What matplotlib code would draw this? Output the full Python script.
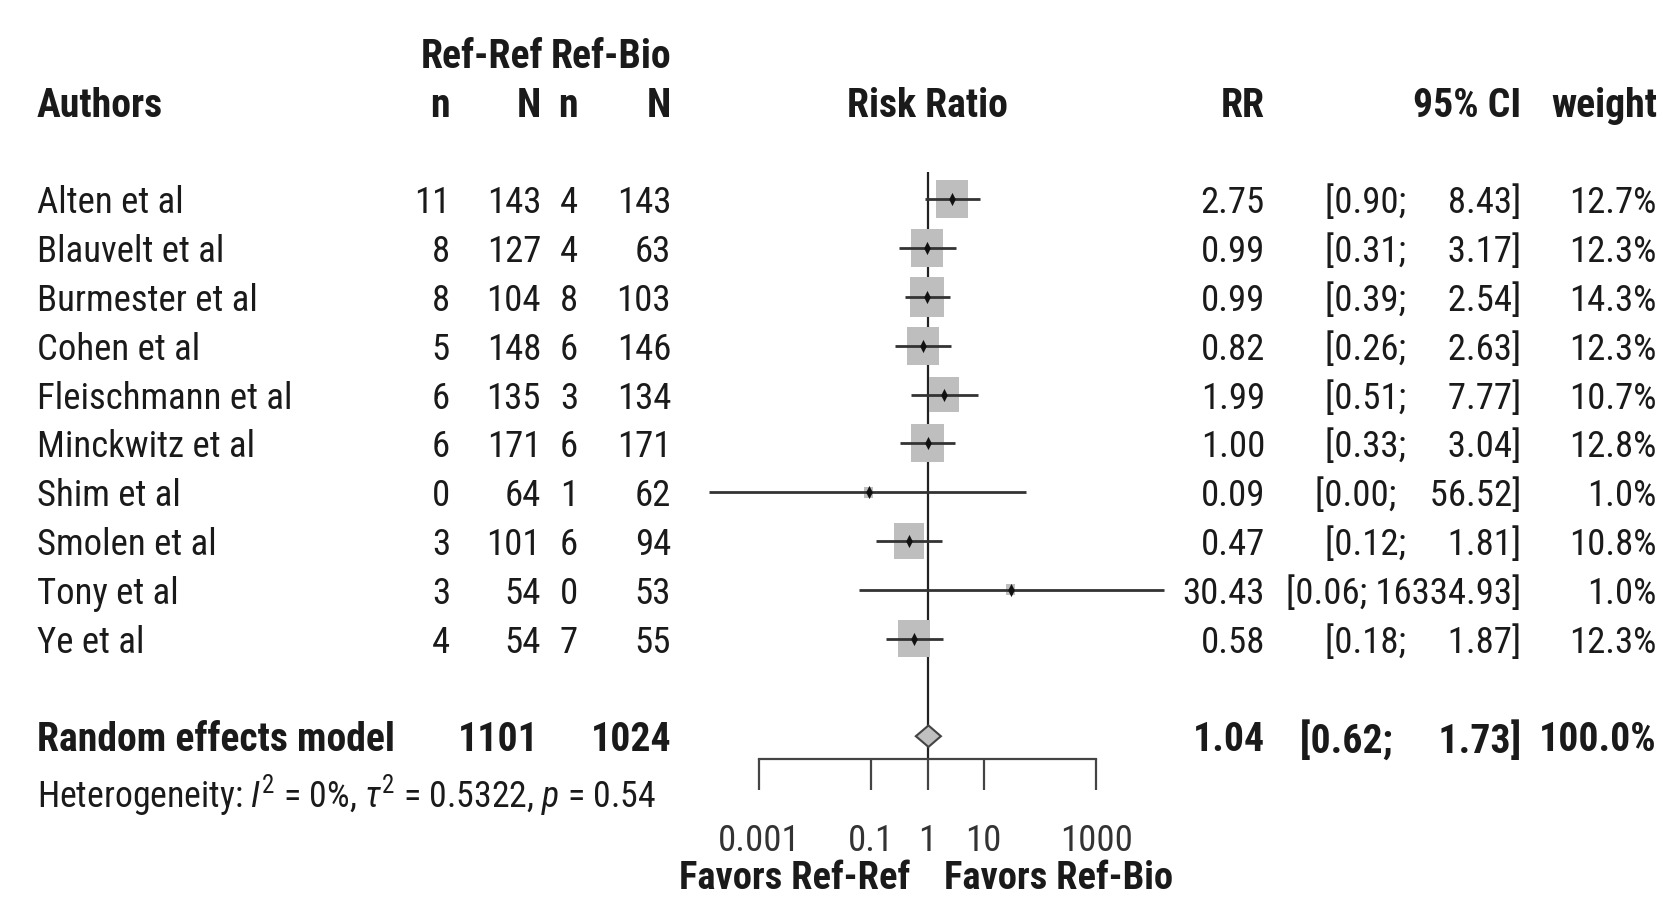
import numpy as np
import matplotlib
matplotlib.use('Agg')
import matplotlib.pyplot as plt
from matplotlib import font_manager
from matplotlib.ticker import NullLocator
from matplotlib.transforms import blended_transform_factory

# study data
authors = ['Alten et al', 'Blauvelt et al', 'Burmester et al', 'Cohen et al',
           'Fleischmann et al', 'Minckwitz et al', 'Shim et al', 'Smolen et al',
           'Tony et al', 'Ye et al']
n_refref = [11, 8, 8, 5, 6, 6, 0, 3, 3, 4]
N_refref = [143, 127, 104, 148, 135, 171, 64, 101, 54, 54]
n_refbio = [4, 4, 8, 6, 3, 6, 1, 6, 0, 7]
N_refbio = [143, 63, 103, 146, 134, 171, 62, 94, 53, 55]
rr = [2.75, 0.99, 0.99, 0.82, 1.99, 1.00, 0.09, 0.47, 30.43, 0.58]
ci_lo = [0.90, 0.31, 0.39, 0.26, 0.51, 0.33, 0.00013, 0.12, 0.06, 0.18]
ci_hi = [8.43, 3.17, 2.54, 2.63, 7.77, 3.04, 56.52, 1.81, 16334.93, 1.87]
weight = [12.7, 12.3, 14.3, 12.3, 10.7, 12.8, 1.0, 10.8, 1.0, 12.3]

# random effects summary
sum_N_refref = 1101
sum_N_refbio = 1024
sum_rr = 1.04
sum_lo = 0.62
sum_hi = 1.73
sum_weight = 100.0
het_text = 'Heterogeneity: $I^2$ = 0%, $\\tau^2$ = 0.5322, $p$ = 0.54'

tick_vals = [0.001, 0.1, 1, 10, 1000]
tick_labels = ['0.001', '0.1', '1', '10', '1000']


def pick_font():
    # narrow face first, the reference text is tall and condensed
    for name, size in [('Roboto Condensed', 26.5), ('PT Sans Narrow', 28),
                       ('Archivo Narrow', 26)]:
        try:
            font_manager.findfont(font_manager.FontProperties(family=name),
                                  fallback_to_default=False)
            return name, size
        except Exception:
            pass
    return 'Liberation Sans', 23


fam, fs = pick_font()
bold_scale = 1.08 if fam != 'Liberation Sans' else 1.0
plt.rcParams['font.family'] = [fam, 'DejaVu Sans']
plt.rcParams['mathtext.fontset'] = 'custom'
plt.rcParams['mathtext.rm'] = fam
plt.rcParams['mathtext.it'] = fam + ':italic'
plt.rcParams['mathtext.bf'] = fam + ':bold'

W, H = 1663, 899
fig = plt.figure(figsize=(W / 100, H / 100), dpi=100, facecolor='w')

# forest panel: log x, one row per study
decade = 56.2
x_one = 927.5
ax = fig.add_axes([(x_one - 5 * decade) / W, 0, 10 * decade / W, 1])
ax.set_xscale('log')
ax.set_xlim(1e-5, 1e5)
row0, step = 199.4, 48.8
ax.set_ylim((H - row0) / step, -row0 / step)
ax.patch.set_alpha(0)

rows = np.arange(len(authors))
y_head1, y_head2 = -3.0, -2.0
y_sum, y_het = 11.0, 12.1
y_axis = 11.47
y_fav = 13.84
tc = '#1a1a1a'

ax.vlines(1, -0.56, y_axis, color='#222222', lw=1.6, zorder=1)
box = [(-0.85, -1), (0.85, -1), (0.85, 1), (-0.85, 1)]
ax.scatter(rr, rows, s=np.array(weight) * 59, marker=box, color='#bebebe',
           lw=0, zorder=2)
ax.hlines(rows, ci_lo, ci_hi, color='#333333', lw=2.0, zorder=3)
ax.scatter(rr, rows, s=90, marker=[(0, 1), (0.5, 0), (0, -1), (-0.5, 0)],
           color='#111111', lw=0, zorder=4)

h = 0.22
ax.fill([sum_lo, sum_rr, sum_hi, sum_rr], [y_sum, y_sum - h, y_sum, y_sum + h],
        facecolor='#c0c0c0', edgecolor='#444444', lw=1.5, zorder=3)

for s in ['top', 'left', 'right']:
    ax.spines[s].set_visible(False)
ax.spines['bottom'].set_position(('data', y_axis))
ax.spines['bottom'].set_bounds(tick_vals[0], tick_vals[-1])
ax.spines['bottom'].set_color('#444444')
ax.spines['bottom'].set_linewidth(1.6)
ax.set_xticks(tick_vals, tick_labels)
ax.xaxis.set_minor_locator(NullLocator())
ax.tick_params(axis='x', direction='out', length=22, width=1.6, color='#444444',
               pad=24, labelsize=fs, labelcolor='#333333')
ax.set_yticks([])

T = blended_transform_factory(fig.transFigure, ax.transData)


def put(px, y, s, ha='right', bold=False, size=None):
    size = size or fs
    if bold:
        size = size * bold_scale
    ax.text(px / W, y, s, transform=T, ha=ha, va='center_baseline',
            fontsize=size, fontweight='bold' if bold else 'normal', color=tc)


# headers
put(543, y_head1, 'Ref-Ref', bold=True)
put(671, y_head1, 'Ref-Bio', bold=True)
put(37, y_head2, 'Authors', ha='left', bold=True)
for px, lab in zip([450, 541, 578, 671], ['n', 'N', 'n', 'N']):
    put(px, y_head2, lab, bold=True)
put(927, y_head2, 'Risk Ratio', ha='center', bold=True)
put(1265, y_head2, 'RR', bold=True)
put(1521, y_head2, '95% CI', bold=True)
put(1657, y_head2, 'weight', bold=True)

# study rows
for i in rows:
    put(37, i, authors[i], ha='left')
    put(450, i, str(n_refref[i]))
    put(541, i, str(N_refref[i]))
    put(578, i, str(n_refbio[i]))
    put(671, i, str(N_refbio[i]))
    put(1265, i, '%.2f' % rr[i])
    put(1521, i, '[%.2f; %8.2f]' % (ci_lo[i], ci_hi[i]))
    put(1657, i, '%.1f%%' % weight[i])

# summary row
put(37, y_sum, 'Random effects model', ha='left', bold=True)
put(539, y_sum, str(sum_N_refref), bold=True)
put(671, y_sum, str(sum_N_refbio), bold=True)
put(1265, y_sum, '%.2f' % sum_rr, bold=True)
put(1521, y_sum, '[%.2f; %8.2f]' % (sum_lo, sum_hi), bold=True)
put(1657, y_sum, '%.1f%%' % sum_weight, bold=True)
put(37, y_het, het_text, ha='left', size=fs * 0.97)

put(910, y_fav, 'Favors Ref-Ref', bold=True, size=fs * 0.97)
put(944, y_fav, 'Favors Ref-Bio', ha='left', bold=True, size=fs * 0.97)

fig.savefig('out.png', dpi=100)
